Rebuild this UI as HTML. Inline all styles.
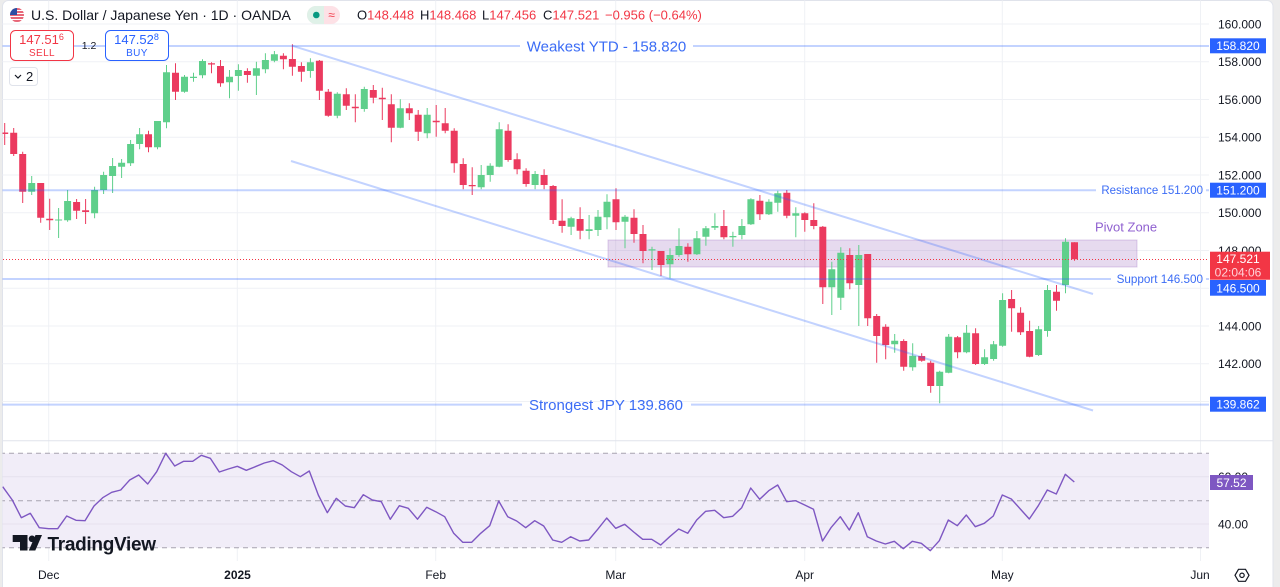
<!DOCTYPE html>
<html><head><meta charset="utf-8"><style>
html,body{margin:0;padding:0;background:#ececec;}
body{width:1280px;height:587px;overflow:hidden;}
svg{display:block;font-family:"Liberation Sans",Arial,sans-serif;}
</style></head><body>
<svg width="1280" height="587" viewBox="0 0 1280 587" xmlns="http://www.w3.org/2000/svg">
<defs><clipPath id="card"><rect x="2.5" y="0.5" width="1270.5" height="600" rx="6"/></clipPath>
<clipPath id="flag"><circle cx="17" cy="15" r="7"/></clipPath></defs>
<rect x="2.5" y="0.5" width="1270.5" height="600" rx="6" fill="#fff" stroke="#e0e3eb"/>
<g clip-path="url(#card)">
<!-- grid -->
<g stroke="#eff1f5" stroke-width="1">
<path d="M0 24H1209M0 61.75H1209M0 99.5H1209M0 137.25H1209M0 175H1209M0 212.75H1209M0 250.5H1209M0 288.25H1209M0 326H1209M0 363.75H1209M0 401.5H1209"/>
<path d="M48.7 0V561M237.3 0V561M435.7 0V561M615.7 0V561M804.7 0V561M1002.3 0V561M1200.5 0V561"/>
</g>
<!-- pivot zone -->
<rect x="608" y="240" width="529" height="27" fill="rgba(149,100,190,0.24)" stroke="rgba(149,100,190,0.3)" stroke-width="1"/>
<!-- candles -->
<g fill="#5fcf8b" stroke="#5fcf8b">
<path stroke-width="1" fill="none" d="M31.7 176V195M58.6 208V238M67.6 190V221.7M94.6 186.7V218.3M103.6 171.7V194M112.6 158V193M121.6 159V178M130.6 140V166M139.6 128V149.3M157.5 121V149.3M166.5 65V128.3M184.5 75V92.7M193.5 72.7V81.7M202.5 59.3V78.3M229.5 70V98.3M238.4 64.3V90.7M256.4 61.7V95M265.4 53.3V73.3M274.4 51V62.3M310.4 58.3V77.7M337.3 92.3V118.3M364.3 86.7V111.7M400.3 99.3V128.3M427.2 108V138.3M481.2 165V189.3M490.2 163.3V181.7M499.2 122.3V167.3M535.1 171V189.3M571.1 216.7V235M589.1 215V239.3M598 210V236M607 194.3V229.3M625 215V248.3M652 246.7V270M670 248.3V278.3M679 228.3V256.7M696.9 231V255M705.9 226V245.7M714.9 213.3V230M732.9 231.7V246.7M741.9 219V239.3M750.9 198.3V225M768.9 199.3V215M777.8 190.7V211.7M795.8 207.3V237.3M831.8 261.7V315M840.8 247.3V310M858.8 245V326M894.7 334V352.7M912.7 343.3V370.7M939.7 370.7V403.3M948.7 334V373.3M966.6 325V353.3M984.6 349.3V365M993.6 341V360.7M1002.6 293.3V346.7M1038.6 326V356M1047.5 285V336.7M1065.5 238.3V293.3"/>
<path stroke="none" d="M28.2 183h7v8.7h-7zM55.1 219.5h7v1h-7zM64.1 201h7v19.3h-7zM91.1 190h7v23.3h-7zM100.1 175h7v15h-7zM109.1 166h7v10h-7zM118.1 162.7h7v4h-7zM127.1 144h7v19.3h-7zM136.1 134.3h7v9.7h-7zM154 121h7v26.3h-7zM163 72.3h7v50h-7zM181 76.7h7v15h-7zM190 76.7h7v1.3h-7zM199 61h7v14.3h-7zM226 76.7h7v5.6h-7zM234.9 70h7v6h-7zM252.9 68.3h7v7.4h-7zM261.9 60h7v9.3h-7zM270.9 54.3h7v6.4h-7zM306.9 62.3h7v8.7h-7zM333.8 93.7h7v22h-7zM360.8 89h7v20h-7zM396.8 108.3h7v19.4h-7zM423.7 114.7h7v18.6h-7zM477.7 175h7v12.3h-7zM486.7 165.7h7v9.3h-7zM495.7 129.3h7v37.4h-7zM531.6 174h7v11h-7zM567.6 218.3h7v8.4h-7zM585.6 229.3h7v1.7h-7zM594.5 216.7h7v13.3h-7zM603.5 201.7h7v15.6h-7zM621.5 216.7h7v5h-7zM648.5 249.3h7v1.2h-7zM666.5 255h7v9.3h-7zM675.5 246h7v9h-7zM693.4 238.3h7v16h-7zM702.4 228.3h7v8.4h-7zM711.4 226h7v1.7h-7zM729.4 236h7v1.3h-7zM738.4 226h7v9h-7zM747.4 199.3h7v25h-7zM765.4 201.7h7v12.6h-7zM774.3 193.3h7v9.4h-7zM792.3 213.3h7v2.4h-7zM828.3 269.3h7v18h-7zM837.3 252.7h7v45h-7zM855.3 255h7v30h-7zM891.2 340.7h7v3.6h-7zM909.2 355.7h7v11.6h-7zM936.2 371.7h7v14.3h-7zM945.2 336.7h7v36h-7zM963.1 332.7h7v19.6h-7zM981.1 357.3h7v6.7h-7zM990.1 344.3h7v14.7h-7zM999.1 300h7v45.7h-7zM1035.1 329.3h7v25.7h-7zM1044 290h7v41h-7zM1062 241.7h7v43.3h-7z"/>
</g>
<g fill="#eb3a5f" stroke="#eb3a5f">
<path stroke-width="1" fill="none" d="M4.7 123V145M13.7 128V156M22.7 151.7V203M40.7 183V222.7M49.7 198.7V230M76.6 199V219M85.6 199V224M148.5 130.7V152.3M175.5 63.3V100M211.5 62.3V73.3M220.5 60V86.7M247.4 68.3V82.7M283.4 53.3V69.3M292.4 44.3V75.7M301.4 62.3V81.7M319.4 60V100M328.3 89V116.7M346.3 88.3V110M355.3 94.3V122.3M373.3 85V103.3M382.3 87.7V120M391.3 94.3V142.3M409.3 103.3V120M418.2 110V141M436.2 105V136.7M445.2 108V133.3M454.2 128.3V172.7M463.2 158.3V189.3M472.2 167.3V195M508.1 124.3V161.7M517.1 153.3V174.3M526.1 168.3V186.7M544.1 169.3V189.3M553.1 185V224M562.1 199.3V232.7M580.1 207.3V239.3M616 188.3V230M634 209.3V242.7M643 225V263.3M661 251V276M687.9 243.3V261.7M723.9 210V239.3M759.9 195V220M786.8 190V218.3M804.8 212.3V231.7M813.8 203.3V229.3M822.8 226V304M849.8 248.3V289.3M867.7 254V326M876.7 314V362.7M885.7 324.3V359.3M903.7 339.3V370.7M921.7 353.3V361.7M930.7 360.7V392.7M957.6 336V358.3M975.6 328.3V365M1011.6 290V331.7M1020.6 307.3V335M1029.6 320.7V357.3M1056.5 285V310.7M1074.5 242.3V260.7"/>
<path stroke="none" d="M1.2 132.5h7v1.5h-7zM10.2 132.7h7v21.3h-7zM19.2 154h7v37.7h-7zM37.2 183h7v34.7h-7zM46.2 218.7h7v1.6h-7zM73.1 202h7v8.7h-7zM82.1 210.3h7v1.7h-7zM145 134.3h7v13h-7zM172 72.7h7v19h-7zM208 63.3h7v1.2h-7zM217 66h7v17.3h-7zM243.9 71h7v4h-7zM279.9 55.7h7v3.6h-7zM288.9 59h7v7.7h-7zM297.9 66h7v5.7h-7zM315.9 60.7h7v30h-7zM324.8 91.7h7v24h-7zM342.8 94.3h7v11.4h-7zM351.8 106.7h7v1.6h-7zM369.8 90h7v7.7h-7zM378.8 97.7h7v1.6h-7zM387.8 104.3h7v23.4h-7zM405.8 108.3h7v5h-7zM414.7 114.7h7v17h-7zM432.7 120.7h7v1.6h-7zM441.7 123.3h7v7.4h-7zM450.7 130.7h7v32.6h-7zM459.7 164h7v21h-7zM468.7 185h7v1.2h-7zM504.6 130.7h7v29.3h-7zM513.6 159.3h7v10h-7zM522.6 170.7h7v13.3h-7zM540.6 175h7v10h-7zM549.6 186h7v34h-7zM558.6 220.7h7v5.3h-7zM576.6 219h7v11.7h-7zM612.5 199.3h7v23h-7zM630.5 217.7h7v16.3h-7zM639.5 234h7v17h-7zM657.5 251h7v14h-7zM684.4 246.7h7v7.6h-7zM720.4 226h7v11.3h-7zM756.4 200.7h7v13.6h-7zM783.3 192.7h7v23h-7zM801.3 213.3h7v6.7h-7zM810.3 220h7v6h-7zM819.3 226.7h7v60.6h-7zM846.3 255h7v28.3h-7zM864.2 254h7v64.3h-7zM873.2 316h7v20h-7zM882.2 326.7h7v18.3h-7zM900.2 341h7v25.7h-7zM918.2 356h7v4.7h-7zM927.2 362.7h7v23.3h-7zM954.1 337.3h7v15h-7zM972.1 333.3h7v30.7h-7zM1008.1 299h7v9.3h-7zM1017.1 312.7h7v19.6h-7zM1026.1 331h7v25.7h-7zM1053 291.7h7v9h-7zM1071 242.3h7v17h-7z"/>
</g>
<!-- level lines & channel -->
<g stroke="rgba(41,98,255,0.28)" stroke-width="2" fill="none">
<path d="M0 46H520M693 46H1209"/>
<path d="M0 190.3H1096M1206 190.3H1209"/>
<path d="M0 279H1111M1206 279H1209"/>
<path d="M0 404.6H522M691 404.6H1209"/>
<path d="M292 45.7L1093 294"/>
<path d="M291 161L1093 410.5"/>
</g>
<path d="M0 259.5H1209" stroke="#f23645" stroke-width="1" stroke-dasharray="1 2"/>
<g fill="#3b6cf5">
<text x="606.5" y="51.4" font-size="15" text-anchor="middle">Weakest YTD - 158.820</text>
<text x="606" y="410" font-size="15" text-anchor="middle">Strongest JPY 139.860</text>
<text x="1203" y="194.2" font-size="11.5" text-anchor="end">Resistance 151.200</text>
<text x="1203" y="283.2" font-size="11.7" text-anchor="end">Support 146.500</text>
</g>
<text x="1095" y="231.4" font-size="13" fill="#9061d0">Pivot Zone</text>
<!-- pane separator -->
<path d="M0 440.7H1280" stroke="#e0e3eb" stroke-width="1"/>
<!-- RSI pane -->
<rect x="0" y="453.3" width="1209" height="94.4" fill="#f1edf8"/>
<path d="M0 476.7H1209M0 524H1209" stroke="#e6e1ee" stroke-width="1"/>
<g stroke="#a8a3b0" stroke-width="1" stroke-dasharray="5 4">
<path d="M0 453.3H1209M0 500.7H1209M0 547.7H1209"/>
</g>
<polyline fill="none" stroke="#7e57c2" stroke-width="1.4" stroke-linejoin="round" points="2.7,486.7 12.3,500 21.3,517.7 30.3,513.3 39.3,527.7 48.7,528.7 57.7,528.7 66.7,516 76,520.3 85,520.7 94,506 102.7,497.7 111.7,492.3 120.7,490 129.7,480 138.7,475 147.7,484 156.7,471.7 165.7,453.3 174.7,466 183.7,461.3 192.7,461.3 201.3,455.3 210.3,458.3 219.3,472 228.3,469 237.3,466.3 246.3,470.3 255.3,466.7 264.3,463 273.3,460.7 282.3,465 291.3,471.7 300.3,476.7 309.3,471 318.3,495 327.3,512.7 336.3,498.3 345.3,506 354.3,507.7 363.3,494.7 372.3,500 381.3,501.7 390.3,519.3 399.3,505.7 408.3,508.3 417.5,519.2 426.7,507.3 435.7,511.7 444.7,516.7 453.7,533.3 462.7,542.3 471.7,542.3 480.7,533.3 489.7,525.7 498.7,501 507.7,516.7 516.7,521 525.7,527.7 534.7,520.7 543.7,526 552.7,540 561.7,542.3 570.7,536.7 579.7,541 588.7,540 597.7,529.3 606.7,518 615.7,528.3 624.7,524.3 633.7,532 642.7,539.3 651.7,539.3 660.7,545 669.7,536.7 678.7,529 687.7,533.3 696.7,520 705.7,511.3 714.7,510.3 723.7,517.7 732.7,516.3 741.7,507.7 750.7,488 759.7,499.3 768.7,490.7 777.7,485 786.7,501.7 795.7,500.7 804.7,505 813.5,509.3 822.5,541 831.3,527.3 840.3,516.7 849.3,530 858.3,512.7 867.3,536.7 876.3,541 885.3,544 894.3,541.3 903.3,548.7 912.3,541.3 921.3,543.3 930.3,550.7 939.3,540.7 948.3,520 957.3,525.7 966.3,515 975.3,526.7 984.3,523.3 993.3,516 1002.3,495 1011.3,499 1020.3,509 1029.3,519 1038.3,505.7 1047.3,490 1056.3,494 1065.3,474.3 1074.3,482"/>
<!-- TradingView logo -->
<g fill="#131722">
<path d="M12.7 535H27.5V550.5H20V542H12.7Z"/>
<circle cx="32" cy="538.8" r="3.3"/>
<path d="M35.5 535H42L35.3 550.5H28.8Z"/>
<text x="47.5" y="550.5" font-size="19" font-weight="bold" letter-spacing="-0.3">TradingView</text>
</g>
<!-- price axis ticks -->
<g fill="#131722" font-size="12">
<text x="1218" y="28.3">160.000</text>
<text x="1218" y="66">158.000</text>
<text x="1218" y="103.8">156.000</text>
<text x="1218" y="141.5">154.000</text>
<text x="1218" y="179.3">152.000</text>
<text x="1218" y="217">150.000</text>
<text x="1218" y="254.8">148.000</text>
<text x="1218" y="330.3">144.000</text>
<text x="1218" y="368">142.000</text>
<text x="1218" y="481">60.00</text>
<text x="1218" y="528.3">40.00</text>
</g>
<g font-size="12" text-anchor="middle">
<rect x="1210" y="38.3" width="56" height="15" fill="#2962ff"/>
<text x="1238" y="50.2" fill="#fff">158.820</text>
<rect x="1210" y="182.7" width="56" height="15" fill="#2962ff"/>
<text x="1238" y="194.6" fill="#fff">151.200</text>
<rect x="1210" y="251.7" width="60" height="28" fill="#f23645"/>
<text x="1238" y="263" fill="#fff">147.521</text>
<text x="1238" y="276.4" fill="#ffd3d9">02:04:06</text>
<rect x="1210" y="280" width="56" height="15.7" fill="#2962ff"/>
<text x="1238" y="292.3" fill="#fff">146.500</text>
<rect x="1210" y="396.7" width="56" height="15" fill="#2962ff"/>
<text x="1238" y="408.6" fill="#fff">139.862</text>
<rect x="1210" y="475" width="43" height="15" fill="#7e57c2"/>
<text x="1231.5" y="486.9" fill="#fff">57.52</text>
</g>
<!-- time axis -->
<g fill="#131722" font-size="12" text-anchor="middle">
<text x="48.7" y="579">Dec</text>
<text x="237.5" y="579" font-weight="bold">2025</text>
<text x="435.7" y="579">Feb</text>
<text x="615.7" y="579">Mar</text>
<text x="804.7" y="579">Apr</text>
<text x="1002.3" y="579">May</text>
<text x="1200" y="579">Jun</text>
</g>
<g fill="none" stroke="#131722" stroke-width="1.2">
<path d="M1238.5 569.3H1245.5L1249 575.3L1245.5 581.3H1238.5L1235 575.3Z"/>
<circle cx="1242" cy="575.3" r="2.2"/>
</g>
<!-- header -->
<g clip-path="url(#flag)">
<rect x="10" y="8" width="14" height="14" fill="#fff"/>
<path d="M10 9H24M10 12H24M10 15H24M10 18H24M10 21H24" stroke="#e0354b" stroke-width="1.5"/>
<rect x="10" y="8" width="7" height="7" fill="#2c4ea3"/>
</g>
<text x="31" y="20" font-size="14" fill="#131722">U.S. Dollar / Japanese Yen · 1D · OANDA</text>
<rect x="307" y="6" width="33" height="18" rx="9" fill="#fde1e6"/>
<path d="M316 6H324V24H316A9 9 0 0 1 316 6Z" fill="#dff1e8"/>
<circle cx="316.3" cy="15" r="3.3" fill="#089981"/>
<text x="331.5" y="19" font-size="12" fill="#f23645" text-anchor="middle">≈</text>
<g font-size="13">
<text x="357" y="19.5" fill="#131722">O<tspan fill="#f23645">148.448</tspan></text>
<text x="420" y="19.5" fill="#131722">H<tspan fill="#f23645">148.468</tspan></text>
<text x="482" y="19.5" fill="#131722">L<tspan fill="#f23645">147.456</tspan></text>
<text x="543" y="19.5" fill="#131722">C<tspan fill="#f23645">147.521</tspan></text>
<text x="605" y="19.5" fill="#f23645">−0.956 (−0.64%)</text>
</g>
<rect x="10.5" y="30.5" width="63" height="30" rx="5" fill="#fff" stroke="#f23645"/>
<text x="41.5" y="44" font-size="13" fill="#f23645" text-anchor="middle">147.51<tspan font-size="9" dy="-4">6</tspan></text>
<text x="42" y="56" font-size="10" fill="#f23645" text-anchor="middle" letter-spacing="0.4">SELL</text>
<text x="89" y="49" font-size="10.5" fill="#131722" text-anchor="middle">1.2</text>
<rect x="105.5" y="30.5" width="63" height="30" rx="5" fill="#fff" stroke="#2962ff"/>
<text x="136.5" y="44" font-size="13" fill="#2962ff" text-anchor="middle">147.52<tspan font-size="9" dy="-4">8</tspan></text>
<text x="137" y="56" font-size="10" fill="#2962ff" text-anchor="middle" letter-spacing="0.4">BUY</text>
<rect x="9.5" y="67.5" width="28" height="18" rx="3" fill="#fff" stroke="#e0e3eb"/>
<path d="M15 75L18 78L21 75" fill="none" stroke="#131722" stroke-width="1.2"/>
<text x="26" y="81" font-size="13" fill="#131722">2</text>
</g>
</svg>
</body></html>
